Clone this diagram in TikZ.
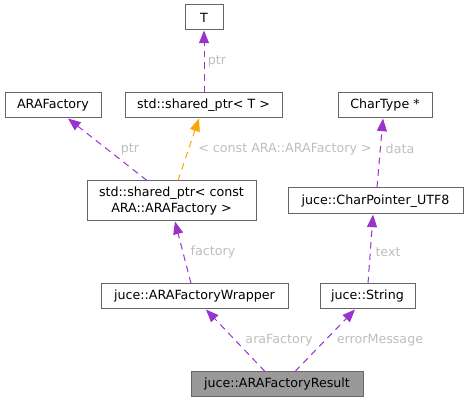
\documentclass[tikz,border=0pt]{standalone}
\usepackage{fontspec}
\setmainfont{DejaVu Sans}
\usetikzlibrary{arrows.meta,calc}
\definecolor{dxedge}{HTML}{9A32CD}
\definecolor{dxtmpl}{HTML}{FFA500}
\definecolor{dxframe}{HTML}{666666}
\definecolor{dxlabel}{HTML}{BEBEBE}
\definecolor{dxself}{HTML}{999999}

\tikzset{
  cls/.style={draw=dxframe, fill=white, line width=0.75pt, inner sep=0pt,
    minimum height=18.75pt, align=center, font=\fontsize{9.5}{11.5}\selectfont, text=black},
  member/.style={dxedge, line width=0.75pt, dash pattern=on 5pt off 3.75pt,
    -{Triangle[length=9.5pt,width=7.5pt]}},
  tmpl/.style={member, dxtmpl},
  elabel/.style={font=\fontsize{9.5}{11.5}\selectfont, text=dxlabel}
}

\begin{document}
\begin{tikzpicture}[x=0.75pt,y=-0.75pt]
  \useasboundingbox (0,0) rectangle (469,403);

  \node[cls, minimum width=28.5pt] (T) at (204,17.5) {T};
  \node[cls, minimum width=117.75pt] (sptrT) at (203.5,105.5) {std::shared\_ptr< T >};
  \node[cls, minimum width=72pt] (araf) at (53,105.5) {ARAFactory};
  \node[cls, minimum width=70.5pt] (chartype) at (385,105.5) {CharType *};
  \node[cls, minimum width=126.75pt, minimum height=30pt] (sconst) at (171.5,201)
    {std::shared\_ptr< const\\ARA::ARAFactory >};
  \node[cls, minimum width=131.25pt, minimum height=19.5pt] (cptr) at (375.5,201) {juce::CharPointer\_UTF8};
  \node[cls, minimum width=140.25pt] (wrapper) at (194.5,296.5) {juce::ARAFactoryWrapper};
  \node[cls, minimum width=71.25pt] (jstr) at (367.5,296.5) {juce::String};
  \node[cls, fill=dxself, minimum width=129pt] (result) at (277,384.5) {juce::ARAFactoryResult};

  \draw[member] ($(sptrT.north)+(0.5,0)$) -- ($(T.south)$);
  \draw[member] ($(sconst.north)+(-24.5,0)$) -- ($(araf.south)+(15,0)$);
  \draw[tmpl] ($(sconst.north)+(6.5,0)$) -- ($(sptrT.south)+(-4.5,0)$);
  \draw[member] ($(cptr.north)+(1.5,0)$) -- ($(chartype.south)+(-2,0)$);
  \draw[member] ($(wrapper.north)+(-3.5,0)$) -- ($(sconst.south)+(3.5,0)$);
  \draw[member] ($(jstr.north)+(0.5,0)$) -- ($(cptr.south)+(-2.5,0)$);
  \draw[member] ($(result.north)+(-12,0)$) -- ($(wrapper.south)+(11.5,0)$);
  \draw[member] ($(result.north)+(18,0)$) -- ($(jstr.south)+(-12.5,0)$);

  \node[elabel] (lptrT) at (217,61) {ptr};
  \node[elabel] (lptrA) at (130,149) {ptr};
  \node[elabel] (ltmpl) at (285,149) {< const ARA::ARAFactory >};
  \node[elabel] (ldata) at (400,149) {data};
  \node[elabel] (lfact) at (213,252) {factory};
  \node[elabel] (ltext) at (388,252) {text};
  \node[elabel] (laraf) at (279,340) {araFactory};
  \node[elabel] (lerr) at (380,340) {errorMessage};
\end{tikzpicture}
\end{document}
